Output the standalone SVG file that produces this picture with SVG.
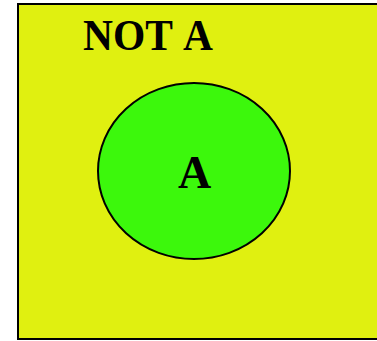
<svg xmlns="http://www.w3.org/2000/svg" width="377" height="341" viewBox="0 0 377 341">
<style>
.lbl{font-family:"Liberation Serif","DejaVu Serif",serif;font-weight:bold;fill:#000;}
</style>
<rect width="377" height="341" fill="#fff"/>
<g id="universe">
<rect x="18" y="4" width="370" height="335" fill="#E0F010" stroke="#000" stroke-width="2"/>
<text class="lbl" x="83" y="50" font-size="44" textLength="130" lengthAdjust="spacingAndGlyphs" word-spacing="3">NOT A</text>
</g>
<g id="setA">
<ellipse cx="194" cy="171" rx="96" ry="88" fill="#3CF80C" stroke="#000" stroke-width="2"/>
<text class="lbl" x="194.5" y="188" font-size="46" text-anchor="middle">A</text>
</g>
<g id="connectors"></g>
</svg>
